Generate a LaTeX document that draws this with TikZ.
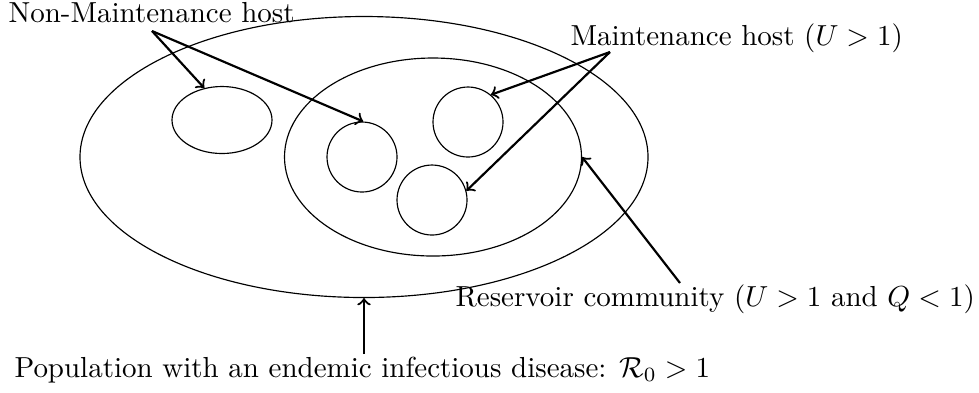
\documentclass[tikz,border=0pt]{standalone}
\usetikzlibrary{shapes.geometric}
\def\U{0.345pt}
\begin{document}
\begin{tikzpicture}[x=0.345pt,y=-0.345pt,
  region/.style={draw, ellipse, inner sep=0pt, line width=0.4pt},
  host/.style={draw, circle, inner sep=0pt, minimum size=70*\U, line width=0.4pt},
  lbl/.style={anchor=base west, inner sep=0pt},
  pointer/.style={->, line width=0.75pt}]
\useasboundingbox (0,0) rectangle (979,392);
% regions
\node[region, minimum width=568*\U, minimum height=281*\U] (outer) at (364,157) {};
\node[region, minimum width=297*\U, minimum height=198*\U] (inner) at (433,157) {};
\node[region, minimum width=100*\U, minimum height=67*\U] (small) at (222,120) {};
\node[host] (c1) at (362,157) {};
\node[host] (c2) at (468,122) {};
\node[host] (c3) at (432,200) {};
% labels
\node[lbl] (nm) at (8,22) {Non-Maintenance host};
\node[lbl] (mh) at (570,45) {Maintenance host ($U>1$)};
\node[lbl] (rc) at (455,306) {Reservoir community ($U>1$ and $Q<1$)};
\node[lbl] (pop) at (14,377) {Population with an endemic infectious disease: $\mathcal{R}_0>1$};
% connector start points
\coordinate (nmS) at (152,31);
\coordinate (mhS) at (610,52);
\coordinate (rcS) at (680,283);
\coordinate (popS) at (364,354);
% connectors
\draw[pointer] (nmS) -- (small.119);
\draw[pointer] (nmS) -- (c1.88);
\draw[pointer] (mhS) -- (c2.50);
\draw[pointer] (mhS) -- (c3.15);
\draw[pointer] (rcS) -- (inner.east);
\draw[pointer] (popS) -- (outer.south);
\end{tikzpicture}
\end{document}
